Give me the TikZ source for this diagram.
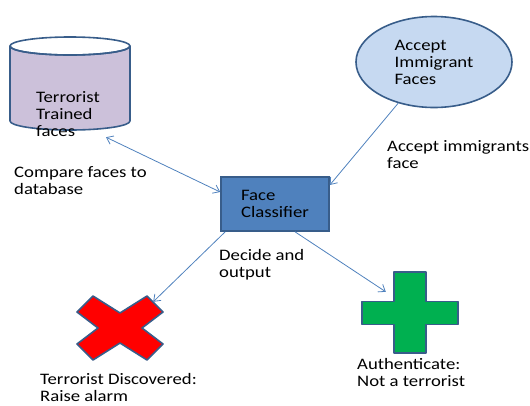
\documentclass[tikz,border=0pt]{standalone}
\usepackage{fontspec}
\setmainfont{Carlito}[FakeStretch=1.17]
\usetikzlibrary{shapes.geometric,arrows.meta,positioning}
\definecolor{outline}{RGB}{56,93,138}
\definecolor{accent}{RGB}{79,129,189}
\definecolor{lilac}{RGB}{204,193,218}
\definecolor{paleblue}{RGB}{198,217,241}
\definecolor{alarmred}{RGB}{255,0,0}
\definecolor{okgreen}{RGB}{0,176,80}
\begin{document}
\begin{tikzpicture}[
    x=1pt, y=-1pt,
    every node/.style={font=\fontsize{16}{17}\selectfont, inner sep=0pt},
    txt/.style={anchor=west, align=left},
    inshape/.style={ellipse, draw=outline, line width=1.6pt, fill=paleblue, minimum width=156pt, minimum height=91pt, align=left},
    clsbox/.style={rectangle, draw=outline, line width=1.6pt, fill=accent, minimum width=108pt, minimum height=54pt, align=left},
    symbol/.style={draw=outline, line width=1.6pt, line join=round},
    tip/.tip={Straight Barb[length=6pt,width=9pt]},
    link/.style={accent, line width=0.8pt, -tip}
]
    \useasboundingbox (0,0) rectangle (530,405);

    \node[minimum width=120pt, minimum height=93pt] (db) at (70,83.5) {};
    \draw[symbol, fill=lilac, shift={(db.center)}] (-60,-37.5) -- (-60,37.5) arc[start angle=180, end angle=0, x radius=60, y radius=9]
        -- (60,-37.5) arc[start angle=0, end angle=180, x radius=60, y radius=9] -- cycle;
    \draw[symbol, shift={(db.center)}] (0,-37.5) ellipse[x radius=60, y radius=9];
    \node[txt] (dbtext) at (36,114) {Terrorist\\Trained\\faces};
    \node[inshape] (imm) at (434,62) {Accept\\Immigrant\\Faces};
    \node[clsbox] (cls) at (275,204) {Face\\Classifier};

    \node[minimum width=86pt, minimum height=64pt] (alarm) at (120,328) {};
    \draw[symbol, fill=alarmred, shift={(alarm.center)}] (-43,-16) -- (-27,-32) -- (0,-15) -- (27,-32) -- (43,-16) -- (22,0)
        -- (43,16) -- (27,32) -- (0,15) -- (-27,32) -- (-43,16) -- (-22,0) -- cycle;
    \node[minimum width=96pt, minimum height=81pt] (ok) at (410,312.5) {};
    \draw[symbol, fill=okgreen, shift={(ok.center)}] (-16,-40.5) -- (16,-40.5) -- (16,-11) -- (48,-11) -- (48,12) -- (16,12)
        -- (16,40.5) -- (-16,40.5) -- (-16,12) -- (-48,12) -- (-48,-11) -- (-16,-11) -- cycle;

    \node[txt] (compare) at (14,180.5) {Compare faces to\\database};
    \node[txt] (accept) at (387,154.5) {Accept immigrants\\face};
    \node[txt] (decide) at (219,265) {Decide and\\output};
    \node[txt] (found) at (40,387) {Terrorist Discovered:\\Raise alarm};
    \node[txt] (auth) at (357,372) {Authenticate:\\Not a terrorist};

    \draw[link, tip-tip] ([xshift=36pt,yshift=-7pt]db.south) -- ([yshift=12pt]cls.west);
    \draw[link] (imm.229) -- ([yshift=19pt]cls.east);
    \draw[link] ([xshift=5pt]cls.south west) -- ([xshift=-10pt,yshift=-6pt]alarm.north east);
    \draw[link] ([xshift=20pt]cls.south) -- ([xshift=24pt,yshift=-20pt]ok.north west);
\end{tikzpicture}
\end{document}
